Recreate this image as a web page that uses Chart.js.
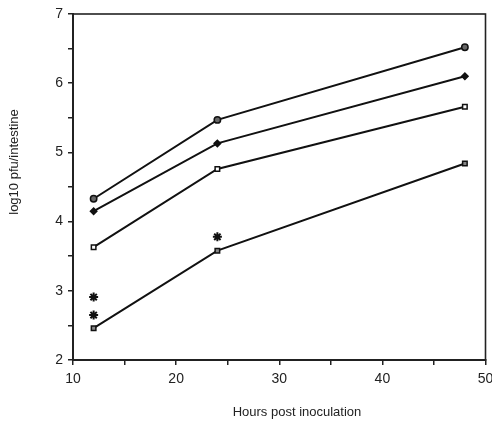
<!DOCTYPE html>
<html>
<head>
<meta charset="utf-8">
<script src="https://cdn.jsdelivr.net/npm/chart.js@4"></script>
<style>
  body { margin: 0; background: #fff; }
  canvas { display: block; }
</style>
</head>
<body>
<canvas id="infectionChart" width="492" height="421"></canvas>
<script>
// values
const hours = [12, 24, 48];
const seriesA = [4.33, 5.47, 6.52];   // top line, open circle
const seriesB = [4.15, 5.13, 6.10];   // filled diamond
const seriesC = [3.63, 4.76, 5.66];   // open square
const seriesD = [2.46, 3.58, 4.84];   // dark square
// asterisks (significance marks)
const starHours = [12, 12, 24];
const starValues = [2.91, 2.65, 3.78];

const xTitle = 'Hours post inoculation';
const yTitle = 'log10 pfu/intestine';

function toPoints(xs, ys) {
    return xs.map((x, i) => ({ x: x, y: ys[i] }));
}

function lineSet(values, style, fill) {
    return {
        data: toPoints(hours, values),
        borderColor: '#111',
        borderWidth: 2,
        pointStyle: style,
        pointRadius: 3.2,
        pointBorderWidth: 1.5,
        pointBorderColor: '#111',
        pointBackgroundColor: fill,
        showLine: true,
        tension: 0
    };
}

// frame round the plot + the two axis titles placed like the original
const framePlugin = {
    id: 'frame',
    afterDraw(chart) {
        const { ctx, chartArea } = chart;
        ctx.save();
        ctx.strokeStyle = '#222';
        ctx.lineWidth = 1.6;
        ctx.strokeRect(chartArea.left, chartArea.top, chartArea.right - chartArea.left, chartArea.bottom - chartArea.top);
        ctx.fillStyle = '#222';
        ctx.font = '13px "Liberation Sans", Arial, sans-serif';
        ctx.textAlign = 'center';
        ctx.textBaseline = 'middle';
        ctx.fillText(xTitle, 297, 412);
        ctx.translate(14, 162);
        ctx.rotate(-Math.PI / 2);
        ctx.font = '13px "Liberation Sans", Arial, sans-serif';
        ctx.fillText(yTitle, 0, 0);
        ctx.restore();
    }
};

const ctx = document.getElementById('infectionChart').getContext('2d');
new Chart(ctx, {
    type: 'scatter',
    data: {
        datasets: [
            lineSet(seriesA, 'circle', '#666'),
            lineSet(seriesB, 'rectRot', '#111'),
            lineSet(seriesC, 'rect', '#fff'),
            lineSet(seriesD, 'rect', '#888'),
            {
                data: toPoints(starHours, starValues),
                pointStyle: 'star',
                pointRadius: 4.5,
                pointBorderWidth: 2,
                borderColor: '#111',
                showLine: false
            }
        ]
    },
    options: {
        responsive: false,
        animation: false,
        devicePixelRatio: 1,
        layout: { padding: { left: 0, right: 6, top: 14, bottom: 0 } },
        plugins: {
            legend: { display: false },
            tooltip: { enabled: false }
        },
        scales: {
            x: {
                type: 'linear',
                min: 10,
                max: 50,
                border: { color: '#222', width: 2 },
                grid: { drawOnChartArea: false, tickLength: 5, color: '#222', lineWidth: 1.5 },
                ticks: {
                    stepSize: 5,
                    autoSkip: false,
                    maxRotation: 0,
                    padding: 6,
                    color: '#222',
                    font: { family: '"Liberation Sans", Arial, sans-serif', size: 14 },
                    callback: (v) => (v % 10 === 0 ? String(v) : '')
                },
                afterFit(scale) {
                    scale.height = 61;
                    scale.paddingLeft = 0;
                    scale.paddingRight = 0;
                }
            },
            y: {
                min: 2,
                max: 7,
                border: { color: '#222', width: 2 },
                grid: { drawOnChartArea: false, tickLength: 5, color: '#222', lineWidth: 1.5 },
                ticks: {
                    stepSize: 0.5,
                    autoSkip: false,
                    padding: 5,
                    color: '#222',
                    font: { family: '"Liberation Sans", Arial, sans-serif', size: 14 },
                    callback: (v) => (Number.isInteger(v) ? String(v) : '')
                },
                afterFit(scale) {
                    scale.width = 73;
                    scale.paddingTop = 0;
                    scale.paddingBottom = 0;
                }
            }
        }
    },
    plugins: [framePlugin]
});
</script>
</body>
</html>
